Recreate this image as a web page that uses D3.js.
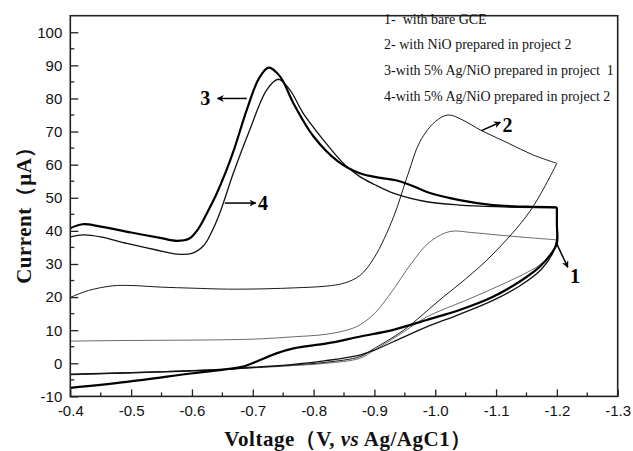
<!DOCTYPE html>
<html>
<head>
<meta charset="utf-8">
<script src="https://cdn.jsdelivr.net/npm/d3@7"></script>
<style>
  html, body { margin: 0; padding: 0; background: #fff; }
  svg { display: block; }
</style>
</head>
<body>
<div id="chart"></div>
<script>
// x ticks (V) and y ticks (µA)
var xTicks = [-0.4, -0.5, -0.6, -0.7, -0.8, -0.9, -1.0, -1.1, -1.2, -1.3];
var yTicks = [-10, 0, 10, 20, 30, 40, 50, 60, 70, 80, 90, 100];

var legendLines = [
  '1-  with bare GCE',
  '2- with NiO prepared in project 2',
  '3-with 5% Ag/NiO prepared in project  1',
  '4-with 5% Ag/NiO prepared in project 2'
];

// each curve is the scan in order: forward to -1.2 V then back to -0.4 V
var curve1V = [-0.4, -0.5, -0.6, -0.7, -0.767, -0.822, -0.86, -0.876, -0.9, -0.93, -0.96, -0.99, -1.024, -1.06, -1.1, -1.15, -1.2,
  -1.197, -1.19, -1.17, -1.112, -1.05, -0.986, -0.94, -0.9, -0.876, -0.82, -0.767, -0.7, -0.6, -0.5, -0.4];
var curve1I = [6.7, 6.9, 7.0, 7.3, 8.0, 8.8, 10.3, 11.6, 15, 22, 30, 36.5, 39.8, 39.5, 38.8, 38, 37.3,
  35.5, 33, 29.5, 24, 19, 14, 8.5, 4, 1.5, 0, -0.7, -1.4, -2.3, -2.9, -3.5];

var curve2V = [-0.4, -0.43, -0.47, -0.5, -0.55, -0.6, -0.66, -0.72, -0.77, -0.82, -0.85, -0.876, -0.9, -0.931, -0.955, -0.975, -1.0, -1.021, -1.045, -1.074, -1.12, -1.16, -1.2,
  -1.156, -1.095, -1.05, -1.013, -0.948, -0.9, -0.876, -0.82, -0.767, -0.7, -0.6, -0.5, -0.4];
var curve2I = [19.9, 22, 23.4, 23.5, 23, 22.7, 22.4, 22.5, 22.8, 23.3, 24.2, 26.5, 32, 44, 57, 67, 73, 75, 73.5, 70.5, 66.5, 63, 60.4,
  46, 33, 25.5, 20, 10, 4.5, 2, 0.3, -0.5, -1.3, -2.2, -2.8, -3.4];

var curve3V = [-0.4, -0.42, -0.45, -0.5, -0.55, -0.575, -0.595, -0.61, -0.625, -0.64, -0.655, -0.67, -0.69, -0.71, -0.726, -0.745, -0.767, -0.8, -0.84, -0.876, -0.91, -0.935, -0.96, -0.99, -1.04, -1.095, -1.15, -1.2,
  -1.2, -1.2, -1.191, -1.172, -1.139, -1.095, -1.04, -0.986, -0.931, -0.877, -0.822, -0.767, -0.739, -0.712, -0.684, -0.657, -0.602, -0.493, -0.4];
var curve3I = [40.8, 42, 41.3, 39.5, 37.8, 37, 37.6, 40.5, 45.5, 51, 57.5, 65, 76.5, 86, 89.3, 86.6, 78.5, 68.5, 61, 57.4, 56, 55.3, 53.8, 51.5, 49.3, 47.8, 47.3, 47.1,
  42, 36.2, 33.2, 29.2, 24.7, 20.1, 16.1, 13.1, 10.1, 8.1, 6.0, 4.5, 3.0, 1.0, -1.0, -1.8, -3.0, -5.6, -7.4];

var curve4V = [-0.4, -0.421, -0.45, -0.493, -0.54, -0.575, -0.6, -0.619, -0.632, -0.645, -0.668, -0.695, -0.723, -0.742, -0.761, -0.783, -0.816, -0.849, -0.876, -0.9, -0.931, -0.986, -1.04, -1.1, -1.2,
  -1.2, -1.195, -1.175, -1.14, -1.095, -1.04, -0.986, -0.931, -0.9, -0.876, -0.82, -0.767, -0.7, -0.657, -0.55, -0.4];
var curve4I = [38.2, 38.8, 38.2, 36.2, 34.3, 33, 33.2, 35.5, 39.5, 45, 57.4, 70.5, 82.6, 85.8, 82.6, 75.5, 67.5, 60.4, 56.4, 54, 51.4, 48.8, 47.8, 47.3, 47.0,
  38, 34, 28.5, 23.5, 19, 14.8, 11, 6.5, 4, 2.5, 0.8, -0.3, -1.2, -1.8, -2.6, -3.3];

// number labels with arrows: label, text pos, arrow from -> to (data units)
var tagNames = ['3', '4', '2', '1'];
var tagAt = [[-0.622, 80], [-0.717, 48.4], [-1.119, 72], [-1.23, 26.5]];
var arrowFrom = [[-0.69, 80], [-0.654, 48.4], [-1.076, 70.3], [-1.2, 36]];
var arrowTo = [[-0.642, 80], [-0.705, 48.4], [-1.107, 72.8], [-1.218, 29]];

var W = 633, H = 451;
var plotL = 70.3, plotR = 617.7, plotT = 15.7, plotB = 396.4;

var x = d3.scaleLinear().domain([-0.4, -1.3]).range([plotL, plotR]);
var y = d3.scaleLinear().domain([-10, 105]).range([plotB, plotT]);

var svg = d3.select('#chart').append('svg')
  .attr('width', W)
  .attr('height', H);

var defs = svg.append('defs');
defs.append('marker')
  .attr('id', 'head')
  .attr('viewBox', '0 0 10 10')
  .attr('refX', 9)
  .attr('refY', 5)
  .attr('markerWidth', 9)
  .attr('markerHeight', 7)
  .attr('markerUnits', 'userSpaceOnUse')
  .attr('orient', 'auto')
  .append('path')
  .attr('d', 'M0,0 L10,5 L0,10 L3,5 Z')
  .attr('fill', '#000');

defs.append('clipPath').attr('id', 'plot-clip')
  .append('rect')
  .attr('x', plotL).attr('y', plotT)
  .attr('width', plotR - plotL).attr('height', plotB - plotT);

function zip(vs, is) {
  return vs.map(function (v, i) { return [v, is[i]]; });
}

// split a scan at its turning point so the corner stays sharp
function branches(pts) {
  var k = d3.minIndex(pts, function (d) { return d[0]; });
  return [pts.slice(0, k + 1), pts.slice(k)];
}

var line = d3.line()
  .x(function (d) { return x(d[0]); })
  .y(function (d) { return y(d[1]); })
  .curve(d3.curveCatmullRom.alpha(0.5));

var curves = [
  { pts: zip(curve1V, curve1I), stroke: '#5a5a5a', w: 0.9 },
  { pts: zip(curve2V, curve2I), stroke: '#1a1a1a', w: 1.0 },
  { pts: zip(curve4V, curve4I), stroke: '#111', w: 1.3 },
  { pts: zip(curve3V, curve3I), stroke: '#000', w: 2.2 }
];

var plot = svg.append('g').attr('clip-path', 'url(#plot-clip)');
plot.selectAll('path.curve')
  .data(curves)
  .enter().append('path')
  .attr('class', 'curve')
  .attr('d', function (d) {
    return branches(d.pts).map(line).join('');
  })
  .attr('fill', 'none')
  .attr('stroke', function (d) { return d.stroke; })
  .attr('stroke-width', function (d) { return d.w; })
  .attr('stroke-linejoin', 'miter');

// axes with inward ticks
var xMinor = d3.range(-0.45, -1.3, -0.1);
var yMinor = d3.range(-5, 105, 10);
var hyphen = function (f) {
  return function (d) { return f(d).replace('\u2212', '-'); };
};

var xAxis = d3.axisBottom(x)
  .tickValues(xTicks)
  .tickSize(-7)
  .tickPadding(9)
  .tickFormat(hyphen(d3.format('.1f')));

var gx = svg.append('g')
  .attr('transform', 'translate(0,' + plotB + ')')
  .call(xAxis);

gx.selectAll('.minor-x')
  .data(xMinor)
  .enter().append('line')
  .attr('class', 'minor-x')
  .attr('x1', function (d) { return x(d); })
  .attr('x2', function (d) { return x(d); })
  .attr('y1', 0)
  .attr('y2', -4);

var yAxis = d3.axisLeft(y)
  .tickValues(yTicks)
  .tickSize(-8)
  .tickPadding(8)
  .tickFormat(hyphen(d3.format('d')));

var gy = svg.append('g')
  .attr('transform', 'translate(' + plotL + ',0)')
  .call(yAxis);

gy.selectAll('.minor-y')
  .data(yMinor)
  .enter().append('line')
  .attr('class', 'minor-y')
  .attr('x1', 0)
  .attr('x2', 4)
  .attr('y1', function (d) { return y(d); })
  .attr('y2', function (d) { return y(d); });

svg.selectAll('.domain').remove();
svg.selectAll('g line')
  .attr('stroke', '#222')
  .attr('stroke-width', 1.3);
svg.selectAll('.tick text')
  .attr('font-family', '"Liberation Sans", Arial, sans-serif')
  .attr('font-size', 15)
  .attr('fill', '#111');

svg.append('rect')
  .attr('x', plotL)
  .attr('y', plotT)
  .attr('width', plotR - plotL)
  .attr('height', plotB - plotT)
  .attr('fill', 'none')
  .attr('stroke', '#222')
  .attr('stroke-width', 1.6);

// axis titles
svg.append('text')
  .attr('x', 348)
  .attr('y', 446)
  .attr('text-anchor', 'middle')
  .attr('font-family', '"Liberation Serif", "Times New Roman", serif')
  .attr('font-weight', 'bold')
  .attr('font-size', 21)
  .attr('letter-spacing', 0.5)
  .attr('fill', '#111')
  .call(function (t) {
    t.append('tspan').text('Voltage（V, ');
    t.append('tspan').attr('font-style', 'italic').text('vs');
    t.append('tspan').text(' Ag/AgC1）');
  });

svg.append('text')
  .attr('transform', 'translate(31,210)rotate(-90)')
  .attr('text-anchor', 'middle')
  .attr('font-family', '"Liberation Serif", "Times New Roman", serif')
  .attr('font-weight', 'bold')
  .attr('font-size', 21)
  .attr('letter-spacing', 0.5)
  .attr('fill', '#111')
  .text('Current（μA）');

// legend text block
svg.append('g').selectAll('text')
  .data(legendLines)
  .enter().append('text')
  .attr('x', 384)
  .attr('y', function (d, i) { return 23.5 + i * 25.7; })
  .attr('font-family', '"Liberation Serif", "Times New Roman", serif')
  .attr('font-size', 14)
  .attr('fill', '#111')
  .style('white-space', 'pre')
  .text(function (d) { return d; });

// numbered arrows
var tags = svg.append('g');
tags.selectAll('line')
  .data(tagNames)
  .enter().append('line')
  .attr('x1', function (d, i) { return x(arrowFrom[i][0]); })
  .attr('y1', function (d, i) { return y(arrowFrom[i][1]); })
  .attr('x2', function (d, i) { return x(arrowTo[i][0]); })
  .attr('y2', function (d, i) { return y(arrowTo[i][1]); })
  .attr('stroke', '#000')
  .attr('stroke-width', 1.5)
  .attr('marker-end', 'url(#head)');

tags.selectAll('text')
  .data(tagNames)
  .enter().append('text')
  .attr('x', function (d, i) { return x(tagAt[i][0]); })
  .attr('y', function (d, i) { return y(tagAt[i][1]); })
  .attr('dy', '0.35em')
  .attr('text-anchor', 'middle')
  .attr('font-family', '"Liberation Serif", "Times New Roman", serif')
  .attr('font-weight', 'bold')
  .attr('font-size', 20)
  .attr('fill', '#000')
  .text(function (d) { return d; });
</script>
</body>
</html>
